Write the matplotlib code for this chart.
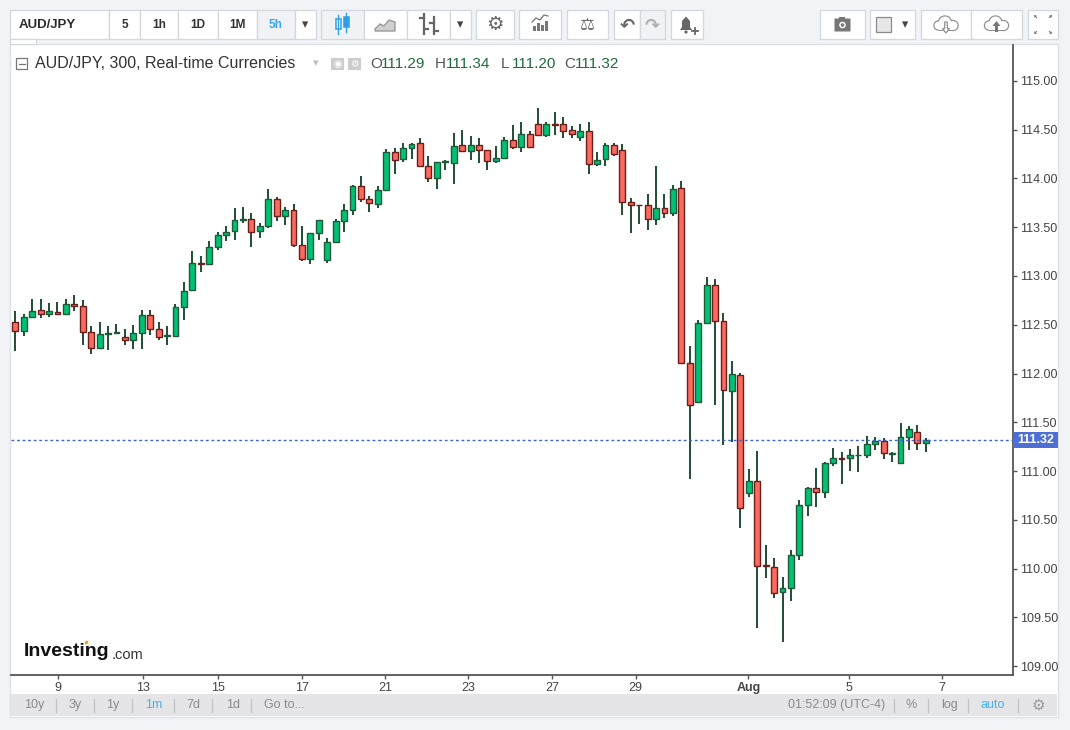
import matplotlib
matplotlib.use('Agg')
import matplotlib.pyplot as plt
import matplotlib.patches as mpatches
import matplotlib.transforms as mtransforms
import numpy as np

plt.rcParams['font.family'] = ['Liberation Sans', 'DejaVu Sans']

# 5h candles, AUD/JPY
opens = [112.531, 112.435, 112.582, 112.654, 112.613, 112.633, 112.613, 112.716, 112.695, 112.428,
         112.264, 112.407, 112.418, 112.377, 112.346, 112.418, 112.603, 112.459, 112.387, 112.387,
         112.685, 112.859, 113.137, 113.127, 113.301, 113.425, 113.466, 113.579, 113.589, 113.466,
         113.517, 113.794, 113.620, 113.681, 113.322, 113.178, 113.445, 113.168, 113.353, 113.568,
         113.681, 113.918, 113.794, 113.743, 113.877, 114.267, 114.195, 114.308, 114.360, 114.123,
         114.010, 114.164, 114.154, 114.339, 114.277, 114.339, 114.288, 114.175, 114.205, 114.390,
         114.318, 114.452, 114.555, 114.442, 114.555, 114.555, 114.493, 114.421, 114.483, 114.144,
         114.195, 114.339, 114.288, 113.764, 113.733, 113.733, 113.589, 113.702, 113.651, 113.907,
         112.109, 111.709, 112.520, 112.911, 112.541, 111.822, 111.986, 110.774, 110.897, 110.034,
         110.013, 109.757, 109.798, 110.137, 110.651, 110.825, 110.784, 111.082, 111.133, 111.133,
         111.164, 111.164, 111.277, 111.308, 111.174, 111.082, 111.349, 111.400, 111.29]
highs = [112.637, 112.610, 112.767, 112.767, 112.719, 112.729, 112.767, 112.801, 112.750, 112.490,
         112.524, 112.483, 112.503, 112.459, 112.500, 112.654, 112.654, 112.524, 112.490, 112.709,
         112.942, 113.253, 113.202, 113.356, 113.449, 113.510, 113.695, 113.705, 113.651, 113.548,
         113.890, 113.808, 113.705, 113.736, 113.510, 113.445, 113.579, 113.394, 113.589, 113.736,
         113.931, 114.024, 113.825, 113.928, 114.298, 114.308, 114.360, 114.360, 114.411, 114.226,
         114.164, 114.185, 114.462, 114.493, 114.431, 114.411, 114.288, 114.329, 114.421, 114.544,
         114.575, 114.483, 114.719, 114.575, 114.678, 114.627, 114.534, 114.555, 114.575, 114.267,
         114.360, 114.360, 114.349, 113.805, 113.733, 113.836, 114.133, 113.836, 113.938, 113.973,
         112.277, 112.551, 112.993, 112.972, 112.623, 112.130, 112.007, 111.020, 111.205, 110.240,
         110.106, 109.911, 110.188, 110.702, 110.835, 111.031, 111.092, 111.236, 111.195, 111.226,
         111.257, 111.359, 111.349, 111.339, 111.195, 111.493, 111.462, 111.472, 111.34]
lows = [112.229, 112.383, 112.579, 112.568, 112.579, 112.603, 112.613, 112.640, 112.291, 112.202,
        112.250, 112.240, 112.414, 112.291, 112.250, 112.250, 112.394, 112.346, 112.294, 112.387,
        112.548, 112.859, 113.041, 113.127, 113.270, 113.360, 113.373, 113.548, 113.301, 113.390,
        113.497, 113.565, 113.527, 113.301, 113.157, 113.127, 113.373, 113.137, 113.353, 113.455,
        113.630, 113.764, 113.661, 113.702, 113.877, 114.041, 114.164, 114.195, 114.113, 113.969,
        113.897, 114.082, 113.948, 114.277, 114.185, 114.154, 114.092, 114.154, 114.205, 114.298,
        114.267, 114.318, 114.442, 114.421, 114.442, 114.411, 114.411, 114.380, 114.041, 114.123,
        114.123, 114.226, 113.630, 113.445, 113.538, 113.476, 113.527, 113.599, 113.620, 112.109,
        110.914, 111.709, 112.520, 111.678, 111.263, 111.294, 110.418, 110.733, 109.387, 109.900,
        109.695, 109.243, 109.664, 110.085, 110.537, 110.630, 110.722, 111.051, 110.866, 111.000,
        110.990, 111.133, 111.216, 111.123, 111.092, 111.082, 111.215, 111.215, 111.20]
closes = [112.435, 112.582, 112.644, 112.613, 112.644, 112.613, 112.716, 112.695, 112.428, 112.264,
          112.407, 112.418, 112.428, 112.346, 112.418, 112.603, 112.459, 112.377, 112.397, 112.685,
          112.849, 113.137, 113.127, 113.301, 113.425, 113.455, 113.579, 113.589, 113.455, 113.517,
          113.794, 113.620, 113.681, 113.322, 113.178, 113.445, 113.579, 113.353, 113.568, 113.681,
          113.918, 113.794, 113.753, 113.877, 114.267, 114.185, 114.308, 114.349, 114.123, 114.010,
          114.164, 114.175, 114.329, 114.277, 114.339, 114.288, 114.175, 114.205, 114.390, 114.318,
          114.452, 114.318, 114.442, 114.555, 114.551, 114.483, 114.452, 114.483, 114.144, 114.185,
          114.339, 114.247, 113.764, 113.733, 113.729, 113.589, 113.702, 113.651, 113.897, 112.109,
          111.678, 112.520, 112.911, 112.541, 111.832, 111.996, 110.620, 110.897, 110.024, 110.024,
          109.746, 109.798, 110.137, 110.651, 110.825, 110.784, 111.082, 111.133, 111.123, 111.164,
          111.168, 111.277, 111.308, 111.185, 111.185, 111.349, 111.431, 111.287, 111.32]

date_ticks = [5.03, 15.1, 24.1, 34.0, 43.9, 53.7, 63.7, 73.6, 86.95, 98.9, 109.9]
date_labels = ['9', '13', '15', '17', '21', '23', '27', '29', 'Aug', '5', '7']
price_ticks = [109.0, 109.5, 110.0, 110.5, 111.0, 111.5, 112.0, 112.5, 113.0, 113.5, 114.0, 114.5, 115.0]
last_ohlc = [111.29, 111.34, 111.20, 111.32]

W, H = 1070, 730
fig = plt.figure(figsize=(W / 100, H / 100), dpi=100, facecolor='#f1f3f7')


def px_rect(l, t, r, b):
    return [l / W, 1 - b / H, (r - l) / W, (b - t) / H]


bg = fig.add_axes([0, 0, 1, 1], zorder=0)
bg.set_xlim(0, W)
bg.set_ylim(H, 0)
bg.axis('off')

ui = fig.add_axes([0, 0, 1, 1], zorder=5)
ui.set_xlim(0, W)
ui.set_ylim(H, 0)
ui.axis('off')

# chart pane + bottom bar
bg.add_patch(mpatches.Rectangle((10, 44), 1048, 673, fc='white', ec='#dde1e8', lw=1))
bg.add_patch(mpatches.Rectangle((11, 694), 1046, 22, fc='#e5e5e8', ec='none'))

BORDER = '#d3d7de'


def button(x0, x1, fc='white'):
    bg.add_patch(mpatches.Rectangle((x0, 10), x1 - x0, 29, fc=fc, ec=BORDER, lw=0.9))


def cloud(cx, cy, edge='#8f8f8f'):
    lobes = [(cx - 7.5, cy + 1.5, 4.0), (cx - 1, cy - 1.5, 6.0), (cx + 7, cy + 1.5, 4.5)]
    for lx, ly, r in lobes:
        ui.add_patch(mpatches.Circle((lx, ly), r + 1.2, fc=edge, ec='none', zorder=1))
    ui.add_patch(mpatches.Rectangle((cx - 7.5, cy + 1), 14.5, 5.7, fc=edge, ec='none', zorder=1))
    for lx, ly, r in lobes:
        ui.add_patch(mpatches.Circle((lx, ly), r, fc='white', ec='none', zorder=2))
    ui.add_patch(mpatches.Rectangle((cx - 7.5, cy + 1), 14.5, 4.5, fc='white', ec='none', zorder=2))


# top toolbar
for x0, x1, fc in [(10, 109, 'white'), (109, 140, 'white'), (140, 178, 'white'), (178, 218, 'white'),
                   (218, 257, 'white'), (257, 295, '#f0f2f5'), (295, 316, 'white'),
                   (321, 364, '#f0f2f5'), (364, 407, 'white'), (407, 450, 'white'), (450, 471, 'white'),
                   (476, 514, 'white'), (519, 561, 'white'), (567, 608, 'white'),
                   (614, 640, 'white'), (640, 665, '#f0f2f5'), (671, 703, 'white'),
                   (820, 865, 'white'), (870, 915, 'white'), (921, 971, 'white'), (971, 1022, 'white'),
                   (1028, 1058, 'white')]:
    button(x0, x1, fc)
bg.add_patch(mpatches.Rectangle((10, 39), 26, 5, fc='white', ec=BORDER, lw=0.9))

ui.text(19, 25, 'AUD/JPY', fontsize=9.5, fontweight='bold', color='#2b2b2b', va='center')
for xc, lab in [(124.5, '5'), (159, '1h'), (198, '1D'), (237.5, '1M')]:
    ui.text(xc, 25, lab, fontsize=8.5, fontweight='bold', color='#333333', ha='center', va='center')
ui.text(276, 25, '5h', fontsize=8.5, fontweight='bold', color='#3aa6ee', ha='center', va='center')
for xc in [305.5, 460.5]:
    ui.text(xc, 25, '▾', fontsize=9, color='#444444', ha='center', va='center')

# candle icon
blue = '#2f9fe8'
ui.plot([338, 338], [15, 34], color=blue, lw=1)
ui.add_patch(mpatches.Rectangle((335.5, 19), 5, 10, fc='white', ec=blue, lw=1.1))
ui.plot([346, 346], [13, 32], color=blue, lw=1)
ui.add_patch(mpatches.Rectangle((343.5, 17), 5, 10, fc=blue, ec=blue, lw=1.1))
# area icon
ui.add_patch(mpatches.Polygon([(375, 31), (375, 29), (380, 24), (384, 26), (389, 20), (395, 22), (395, 31)],
                              closed=True, fc='#cfcfcf', ec='#9a9a9a', lw=1))
# bars icon
g = '#666666'
ui.plot([424, 424], [14, 34], color=g, lw=1.6)
ui.plot([420, 424], [18, 18], color=g, lw=1.6)
ui.plot([424, 428], [29, 29], color=g, lw=1.6)
ui.plot([434, 434], [17, 34], color=g, lw=1.6)
ui.plot([430, 434], [23, 23], color=g, lw=1.6)
ui.plot([434, 438], [31, 31], color=g, lw=1.6)
ui.text(495, 25, '⚙', fontsize=14, color=g, ha='center', va='center', family='DejaVu Sans')
# indicators icon
for xb, hb in [(533, 5), (537, 8), (541, 6), (545, 10)]:
    ui.add_patch(mpatches.Rectangle((xb, 31 - hb), 2.5, hb, fc='#777777', ec='none'))
ui.plot([532, 536, 540, 544, 548], [22, 18, 20, 15, 16], color='#777777', lw=0.9)
ui.text(587.5, 25, '⚖', fontsize=12, color=g, ha='center', va='center', family='DejaVu Sans')
ui.text(627, 25, '↶', fontsize=13, fontweight='bold', color='#666666', ha='center', va='center', family='DejaVu Sans')
ui.text(652.5, 25, '↷', fontsize=13, fontweight='bold', color='#b0b0b0', ha='center', va='center', family='DejaVu Sans')
# bell
ui.add_patch(mpatches.Polygon([(680, 30), (682, 27), (682, 21), (686, 16.5), (690, 21), (690, 27), (692, 30)],
                              closed=True, fc='#666666', ec='none'))
ui.add_patch(mpatches.Circle((686, 32), 1.6, fc='#666666', ec='none'))
ui.plot([692, 698], [31, 31], color='#666666', lw=1.3)
ui.plot([695, 695], [28, 34], color='#666666', lw=1.3)
# camera
ui.add_patch(mpatches.FancyBboxPatch((835, 19), 15, 12, boxstyle='round,pad=0.5', fc='#777777', ec='none'))
ui.add_patch(mpatches.Rectangle((839, 17), 6, 3, fc='#777777', ec='none'))
ui.add_patch(mpatches.Circle((842.5, 25), 3.3, fc='white', ec='none'))
ui.add_patch(mpatches.Circle((842.5, 25), 1.8, fc='#777777', ec='none'))
# colour box
ui.add_patch(mpatches.Rectangle((876, 17), 15, 15, fc='#e6e6e6', ec='#8a8a8a', lw=0.9))
ui.text(905, 25, '▾', fontsize=9, color='#444444', ha='center', va='center')
# clouds
cloud(946, 24)
cloud(996.5, 24)
ui.add_patch(mpatches.FancyArrow(946, 22, 0, 11, width=2.6, head_width=7, head_length=4.5,
                                 length_includes_head=True, fc='white', ec='#8f8f8f', lw=0.9, zorder=3))
ui.add_patch(mpatches.FancyArrow(996.5, 32, 0, -11, width=3, head_width=8, head_length=5,
                                 length_includes_head=True, fc='#777777', ec='none', zorder=3))
# fullscreen
for (xa, ya, dx, dy) in [(1037, 18, -3, -3), (1049, 18, 3, -3), (1037, 31, -3, 3), (1049, 31, 3, 3)]:
    ui.add_patch(mpatches.FancyArrow(xa, ya, dx, dy, width=0.8, head_width=3.2, head_length=2.5,
                                     length_includes_head=True, fc='#666666', ec='none'))

# ---- main price axes ----
ax = fig.add_axes(px_rect(11, 45, 1013, 675), zorder=2)
ax.patch.set_alpha(0)

o = np.array(opens)
h = np.array(highs)
l = np.array(lows)
c = np.array(closes)
x = np.arange(len(o))
up = c >= o
bottoms = np.minimum(o, c)
heights = np.abs(c - o)

ax.vlines(x, l, h, color='#1f4d33', lw=1.4, zorder=2)
ax.bar(x[up], heights[up], bottom=bottoms[up], width=0.7, color='#00c274',
       edgecolor='#1e5a38', linewidth=1.0, zorder=3)
ax.bar(x[~up], heights[~up], bottom=bottoms[~up], width=0.7, color='#fb6a5f',
       edgecolor='#6b1f1a', linewidth=1.0, zorder=3)

ax.axhline(last_ohlc[3], color='#3d63d6', ls=(0, (2, 2)), lw=1.0, zorder=4)

ax.set_xlim(-0.51, 118.34)
ax.set_ylim(108.908, 115.369)

for s in ['top', 'left']:
    ax.spines[s].set_visible(False)
for s in ['bottom', 'right']:
    ax.spines[s].set_color('#555555')
    ax.spines[s].set_linewidth(1.3)

ax.set_xticks(date_ticks)
ax.set_xticklabels(date_labels)
ax.get_xticklabels()[8].set_fontweight('bold')
ax.yaxis.tick_right()
ax.set_yticks(price_ticks)
ax.set_yticklabels([f'{v:.2f}' for v in price_ticks])
ax.tick_params(axis='x', length=3, width=1, color='#555555', labelsize=9, labelcolor='#444444', pad=2)
ax.tick_params(axis='y', length=3, width=1, color='#555555', labelsize=9, labelcolor='#444444', pad=2)

# last price label on the price scale
blend = mtransforms.blended_transform_factory(ax.transAxes, ax.transData)
box_h = 16 / 97.5
ax.add_patch(mpatches.Rectangle((1.0, last_ohlc[3] - box_h / 2), 45 / 1002, box_h, transform=blend,
                                fc='#4d6fd3', ec='none', clip_on=False, zorder=6))
ax.text(1.0 + 22.5 / 1002, last_ohlc[3], f'{last_ohlc[3]:.2f}', transform=blend, ha='center', va='center',
        fontsize=9, fontweight='bold', color='white', zorder=7, clip_on=False)

# ---- legend header ----
ui.add_patch(mpatches.Rectangle((16, 58), 11, 11, fc='white', ec='#777777', lw=0.9))
ui.plot([18.5, 24.5], [63.5, 63.5], color='#777777', lw=0.9)
ui.text(35, 64, 'AUD/JPY, 300, Real-time Currencies', fontsize=11.5, color='#333333', va='center')
ui.text(316, 63, '▾', fontsize=8, color='#bbbbbb', ha='center', va='center')
for x0, sym in [(331, '◉'), (348, '⚙')]:
    ui.add_patch(mpatches.Rectangle((x0, 57.5), 12.5, 12.5, fc='#cccccc', ec='none'))
    ui.text(x0 + 6.25, 64, sym, fontsize=7, color='white', ha='center', va='center', family='DejaVu Sans')
for xl, letter, val in zip([370, 435, 501, 564], ['O', 'H', 'L', 'C'], last_ohlc):
    ui.text(xl, 64, letter, fontsize=11, color='#555555', va='center')
    ui.text(xl + 10.5, 64, f'{val:.2f}', fontsize=11, color='#216b3e', va='center')

# Investing.com logo
ui.text(24, 652, 'Investing', fontsize=14, fontweight='bold', color='#111111', va='center')
ui.text(112, 655, '.com', fontsize=10.5, color='#333333', va='center')
ui.add_patch(mpatches.Ellipse((86.5, 642.5), 3.2, 4, angle=30, fc='#f7a21b', ec='none'))

# bottom bar
grey = '#8a8a8a'
for xc, lab in [(34, '10y'), (75, '3y'), (113, '1y'), (193, '7d'), (233, '1d'), (284, 'Go to...')]:
    ui.text(xc, 705, lab, fontsize=9, color=grey, ha='center', va='center')
ui.text(154, 705, '1m', fontsize=9, color='#45b0ea', ha='center', va='center')
ui.text(837, 705, '01:52:09 (UTC-4)', fontsize=9, color=grey, ha='center', va='center')
ui.text(911, 705, '%', fontsize=9, color=grey, ha='center', va='center')
ui.text(949, 705, 'log', fontsize=9, color=grey, ha='center', va='center')
ui.text(993, 705, 'auto', fontsize=9, color='#45b0ea', ha='center', va='center')
ui.text(1038, 705, '⚙', fontsize=11, color='#9a9a9a', ha='center', va='center', family='DejaVu Sans')
for xs in [56, 94, 132, 174, 212, 251, 894, 928, 968, 1018]:
    ui.plot([xs, xs], [699, 712], color='#c2c2c2', lw=0.9)

fig.savefig('out.png', dpi=100, facecolor=fig.get_facecolor())
